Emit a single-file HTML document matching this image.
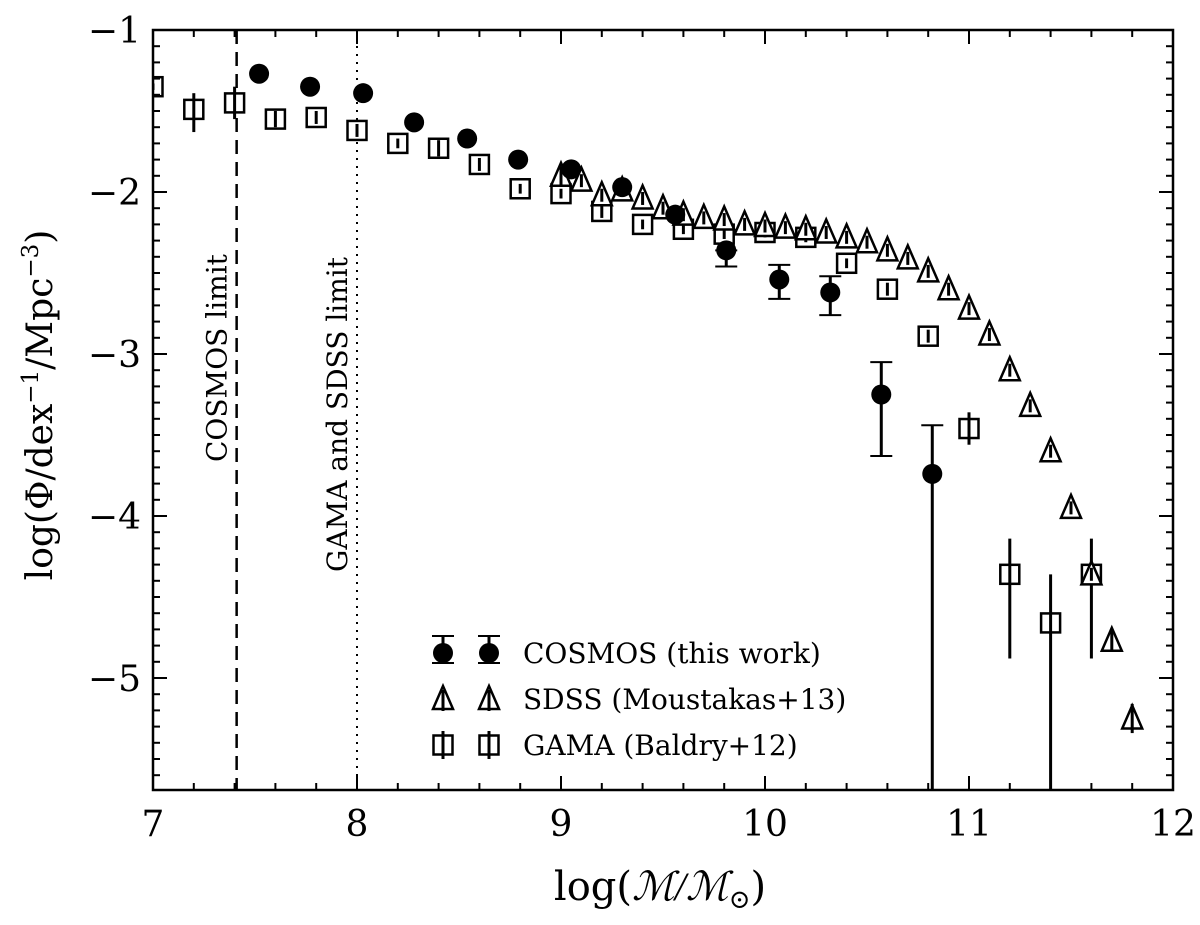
<!DOCTYPE html>
<html><head><meta charset="utf-8"><style>
body{margin:0;background:#fff;width:1200px;height:920px;overflow:hidden}
svg text{font-family:"DejaVu Serif","Liberation Serif",serif;fill:#000}
</style></head><body>
<svg id="chart" width="1200" height="920" xmlns="http://www.w3.org/2000/svg">
<g id="plot"></g>
</svg>
<script>
const xTicks=[7,8,9,10,11,12];
const yTicks=[-1,-2,-3,-4,-5];
const cosmosX=[7.52,7.77,8.03,8.28,8.54,8.79,9.05,9.30,9.56,9.81,10.07,10.32,10.57,10.82];
const cosmosY=[-1.27,-1.35,-1.39,-1.57,-1.67,-1.80,-1.86,-1.97,-2.14,-2.36,-2.54,-2.62,-3.25,-3.74];
const cosmosErrLo=[0,0,0,0,0,0,0,0,0.03,0.1,0.12,0.14,0.38,2.2];
const cosmosErrHi=[0,0,0,0,0,0,0,0,0.03,0,0.09,0.1,0.2,0.3];
const gamaX=[7.0,7.2,7.4,7.6,7.8,8.0,8.2,8.4,8.6,8.8,9.0,9.2,9.4,9.6,9.8,10.0,10.2,10.4,10.6,10.8,11.0,11.2,11.4,11.6];
const gamaY=[-1.35,-1.49,-1.45,-1.55,-1.54,-1.62,-1.70,-1.73,-1.83,-1.98,-2.01,-2.12,-2.20,-2.23,-2.26,-2.25,-2.28,-2.44,-2.60,-2.89,-3.46,-4.36,-4.66,-4.36];
const gamaErrHi=[0.02,0.1,0.1,0.05,0.04,0.04,0.03,0.05,0.04,0.03,0.03,0.04,0.03,0.03,0.03,0.03,0.03,0.03,0.04,0.04,0.1,0.22,0.3,0.22];
const gamaErrLo=[0.02,0.14,0.1,0.05,0.04,0.04,0.03,0.05,0.04,0.03,0.03,0.04,0.03,0.03,0.03,0.03,0.03,0.03,0.04,0.04,0.1,0.52,1.2,0.52];
const sdssX=[9.0,9.1,9.2,9.3,9.4,9.5,9.6,9.7,9.8,9.9,10.0,10.1,10.2,10.3,10.4,10.5,10.6,10.7,10.8,10.9,11.0,11.1,11.2,11.3,11.4,11.5,11.6,11.7,11.8];
const sdssY=[-1.90,-1.93,-2.02,-1.99,-2.04,-2.10,-2.14,-2.16,-2.17,-2.20,-2.21,-2.22,-2.23,-2.25,-2.28,-2.31,-2.36,-2.41,-2.49,-2.60,-2.72,-2.88,-3.10,-3.32,-3.60,-3.95,-4.36,-4.77,-5.25];
const sdssErr=[0.06,0.04,0.04,0.04,0.04,0.04,0.04,0.04,0.04,0.04,0.04,0.04,0.04,0.04,0.04,0.04,0.04,0.04,0.04,0.04,0.04,0.04,0.04,0.04,0.04,0.04,0.04,0.06,0.09];

const L=153,R=1173,T=30,B=790;
const sx=v=>L+(v-7)*(R-L)/5;
const sy=v=>T+(-1-v)*162;
const NS="http://www.w3.org/2000/svg";
const g=document.getElementById('plot');
function mk(tag,attrs,parent){const e=document.createElementNS(NS,tag);for(const k in attrs)e.setAttribute(k,attrs[k]);(parent||g).appendChild(e);return e;}

const defs=mk('defs',{});
const cp=mk('clipPath',{id:'clip'},defs);
mk('rect',{x:L,y:T,width:R-L,height:B-T},cp);
const data=mk('g',{'clip-path':'url(#clip)'});



let ln=mk('line',{x1:sx(7.41),x2:sx(7.41),y1:T,y2:B,stroke:'#000','stroke-width':2.5,'stroke-dasharray':'14,8'},data);


ln=mk('line',{x1:sx(8),x2:sx(8),y1:T,y2:B,stroke:'#000','stroke-width':2,'stroke-dasharray':'2,6'},data);



function err(x,y1,y2,cap,par){
  mk('line',{x1:x,x2:x,y1:y1,y2:y2,stroke:'#000','stroke-width':3},par);
  if(cap){mk('line',{x1:x-11,x2:x+11,y1:y1,y2:y1,stroke:'#000','stroke-width':2},par);mk('line',{x1:x-11,x2:x+11,y1:y2,y2:y2,stroke:'#000','stroke-width':2},par);}
}
function tri(x,y,par){mk('polygon',{points:`${x},${y-13} ${x-10},${y+10} ${x+10},${y+10}`,fill:'#fff',stroke:'#000','stroke-width':2.5},par);}
function sq(x,y,par){mk('rect',{x:x-9.5,y:y-9.5,width:19,height:19,fill:'#fff',stroke:'#000','stroke-width':2.5},par);}

gamaX.forEach((v,i)=>{
  const x=sx(v),y=sy(gamaY[i]);
  const p=mk('g',{},data);
  
  
  sq(x,y,p);
  err(x,sy(gamaY[i]+gamaErrHi[i]),sy(gamaY[i]-gamaErrLo[i]),false,p);
});
sdssX.forEach((v,i)=>{
  const x=sx(v),y=sy(sdssY[i]);
  const p=mk('g',{},data);
  
  
  tri(x,y,p);
  err(x,sy(sdssY[i]+sdssErr[i]),sy(sdssY[i]-sdssErr[i]),false,p);
});
cosmosX.forEach((v,i)=>{
  const x=sx(v),y=sy(cosmosY[i]);
  const p=mk('g',{},data);
  
  
  if(cosmosErrLo[i]>0.05) err(x,sy(cosmosY[i]+cosmosErrHi[i]),sy(cosmosY[i]-cosmosErrLo[i]),true,p);
  mk('circle',{cx:x,cy:y,r:10,fill:'#000'},p);
});

const ax=mk('rect',{x:L,y:T,width:R-L,height:B-T,fill:'none',stroke:'#000','stroke-width':2.5});


for(let v=7;v<=12.001;v+=0.2){
  const x=sx(v);const maj=Math.abs(v-Math.round(v))<1e-6;const len=maj?14:7;
  mk('line',{x1:x,x2:x,y1:B,y2:B-len,stroke:'#000','stroke-width':2});
  mk('line',{x1:x,x2:x,y1:T,y2:T+len,stroke:'#000','stroke-width':2});
}
for(let k=10;k<=56;k++){
  const v=-k/10;const y=sy(v);if(y>B)break;const maj=k%10===0;const len=maj?14:7;
  mk('line',{x1:L,x2:L+len,y1:y,y2:y,stroke:'#000','stroke-width':2});
  mk('line',{x1:R,x2:R-len,y1:y,y2:y,stroke:'#000','stroke-width':2});
}
xTicks.forEach(v=>{
  const t=mk('text',{x:sx(v),y:B+46,'text-anchor':'middle','font-size':36});
  t.textContent=String(v);
  
  
});
yTicks.forEach(v=>{
  const t=mk('text',{x:L-12,y:sy(v)+13,'text-anchor':'end','font-size':36});
  t.textContent='\u2212'+Math.abs(v);
  
  
});
let t=mk('text',{transform:`translate(${sx(7.41)-10},462) rotate(-90)`,'font-size':28});
t.textContent='COSMOS limit';


t=mk('text',{transform:`translate(${sx(8)-10},572) rotate(-90)`,'font-size':28});
t.textContent='GAMA and SDSS limit';


t=mk('text',{x:660,y:900,'text-anchor':'middle','font-size':40});
t.innerHTML='log(<tspan font-family="Liberation Serif" font-style="italic">ℳ/ℳ</tspan><tspan font-size="26" dy="8">⊙</tspan><tspan dy="-8">)</tspan>';


t=mk('text',{transform:'translate(52,405) rotate(-90)','text-anchor':'middle','font-size':36});
t.innerHTML='log(Φ/dex<tspan font-size="23" dy="-14">−1</tspan><tspan dy="14">/Mpc</tspan><tspan font-size="23" dy="-14">−3</tspan><tspan dy="14">)</tspan>';


const lg=mk('g',{});


const labels=['COSMOS (this work)','SDSS (Moustakas+13)','GAMA (Baldry+12)'];
labels.forEach((s,i)=>{
  const y=653+i*46;
  const e=mk('g',{},lg);
  
  
  [443,489].forEach(x=>{
    if(i===0){err(x,y-17,y+10,true,e);mk('circle',{cx:x,cy:y,r:10,fill:'#000'},e);}
    else if(i===1){tri(x,y,e);err(x,y-9,y+12,false,e);}
    else{sq(x,y,e);err(x,y-14,y+14,false,e);}
  });
  const tx=mk('text',{x:523,y:y+10,'font-size':28},e);tx.textContent=s;
});
</script>
</body></html>
